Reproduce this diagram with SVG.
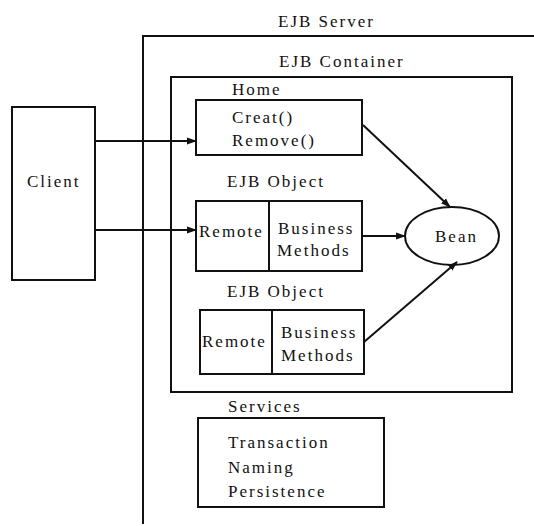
<svg xmlns="http://www.w3.org/2000/svg" width="534" height="526" viewBox="0 0 534 526">
<style>
text{font-family:"Liberation Serif","Times New Roman",serif;font-size:17px;letter-spacing:2px;fill:#111}
.b{fill:none;stroke:#111;stroke-width:2}
.c{fill:none;stroke:#111;stroke-width:2}
</style>
<defs>
<marker id="ah" markerWidth="10" markerHeight="8" refX="9" refY="4" orient="auto" markerUnits="userSpaceOnUse">
<path d="M0,0.5 L10,4 L0,7.5 z" fill="#111"/>
</marker>
</defs>
<rect width="534" height="526" fill="#fff"/>
<g id="server">
<path class="b" d="M534 36 H143 V524"/>
<text x="278" y="27">EJB Server</text>
</g>
<g id="container">
<rect class="b" x="171" y="77" width="341" height="315"/>
<text x="279" y="67">EJB Container</text>
</g>
<g id="client">
<rect class="b" x="12" y="107" width="83" height="173"/>
<text x="27" y="187">Client</text>
</g>
<g id="home">
<rect class="b" x="196" y="100" width="166" height="55"/>
<text x="232" y="95">Home</text>
<text x="232" y="123">Creat()</text>
<text x="232" y="146">Remove()</text>
</g>
<g id="ejbobject1">
<text x="227" y="187">EJB Object</text>
<rect class="b" x="196" y="201" width="166" height="70"/>
<line class="b" x1="269" y1="201" x2="269" y2="271"/>
<text x="199" y="237">Remote</text>
<text x="278" y="234">Business</text>
<text x="277" y="256">Methods</text>
</g>
<g id="ejbobject2">
<text x="227" y="297">EJB Object</text>
<rect class="b" x="200" y="310" width="164" height="64"/>
<line class="b" x1="272" y1="310" x2="272" y2="374"/>
<text x="202" y="347">Remote</text>
<text x="281" y="338">Business</text>
<text x="281" y="361">Methods</text>
</g>
<g id="bean">
<ellipse class="b" cx="452" cy="236" rx="47" ry="29"/>
<text x="435" y="242">Bean</text>
</g>
<g id="services">
<text x="228" y="412">Services</text>
<rect class="b" x="198" y="418" width="186" height="89"/>
<text x="228" y="448">Transaction</text>
<text x="228" y="473">Naming</text>
<text x="228" y="497">Persistence</text>
</g>
<g id="connectors">
<line class="c" x1="95" y1="141" x2="196" y2="141" marker-end="url(#ah)"/>
<line class="c" x1="95" y1="230" x2="196" y2="230" marker-end="url(#ah)"/>
<line class="c" x1="362" y1="236" x2="405" y2="236" marker-end="url(#ah)"/>
<line class="c" x1="363" y1="125" x2="450" y2="207" marker-end="url(#ah)"/>
<line class="c" x1="364" y1="342" x2="457" y2="262" marker-end="url(#ah)"/>
</g>
</svg>
